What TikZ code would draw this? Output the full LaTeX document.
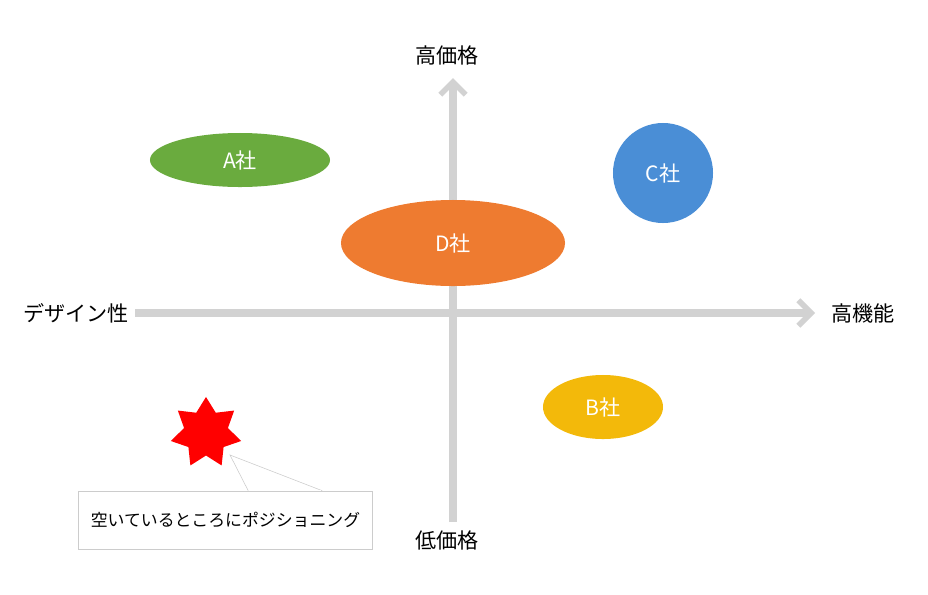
\documentclass[tikz,border=0pt]{standalone}
\usepackage{fontspec}
\newfontfamily\jp{Noto Sans CJK JP}
\usetikzlibrary{shapes.geometric, arrows.meta, positioning}
\definecolor{firmA}{HTML}{6AAB3E}
\definecolor{firmB}{HTML}{F3B90A}
\definecolor{firmC}{HTML}{4A8ED6}
\definecolor{firmD}{HTML}{EE7B30}

\begin{document}
\begin{tikzpicture}[
    x=0.025cm, y=-0.025cm,
    axis/.style={line width=5pt, draw=gray!35, -{Straight Barb[length=9pt, width=18pt, line width=4pt]}},
    lbl/.style={font=\jp\fontsize{15}{18}\selectfont, text=black},
    firm/.style={ellipse, font=\jp\fontsize{15}{18}\selectfont, text=white, inner sep=0pt},
]
\useasboundingbox (0,0) rectangle (928,594);

% axes
\coordinate (left) at (135,313);
\coordinate (right) at (815,313);
\coordinate (bottom) at (453,522);
\coordinate (top) at (453,78);
\draw[axis] (left) -- (right);
\draw[axis] (bottom) -- (top);

% axis labels
\node[lbl] (hiprice) at (447,55) {高価格};
\node[lbl] (loprice) at (447,540) {低価格};
\node[lbl] (design) at (76,313) {デザイン性};
\node[lbl] (func) at (863,313) {高機能};

% companies
\node[firm, fill=firmA, minimum width=4.5cm, minimum height=1.35cm] (a) at (240,160) {A社};
\node[firm, fill=firmD, minimum width=5.6cm, minimum height=2.15cm] (d) at (453,243) {D社};
\node[firm, fill=firmC, minimum size=2.5cm] (c) at (663,173) {C社};
\node[firm, fill=firmB, minimum width=3cm, minimum height=1.6cm] (b) at (603,407) {B社};

% star and callout
\node[star, star points=7, star point ratio=1.6, fill=red, minimum size=1.8cm, inner sep=0pt] (spot) at (206,433) {};
\node[draw=gray!40, fill=white, minimum width=7.35cm, minimum height=1.45cm, font=\jp\fontsize{12}{14}\selectfont] (note) at (225.5,520) {空いているところにポジショニング};
\coordinate (tip) at (230,455);
\draw[draw=gray!40, fill=white] ([xshift=4.25cm]note.north west) -- (tip) -- ([xshift=6.1cm]note.north west);
\draw[white, line width=1pt] ([xshift=4.27cm]note.north west) -- ([xshift=6.08cm]note.north west);
\end{tikzpicture}
\end{document}
